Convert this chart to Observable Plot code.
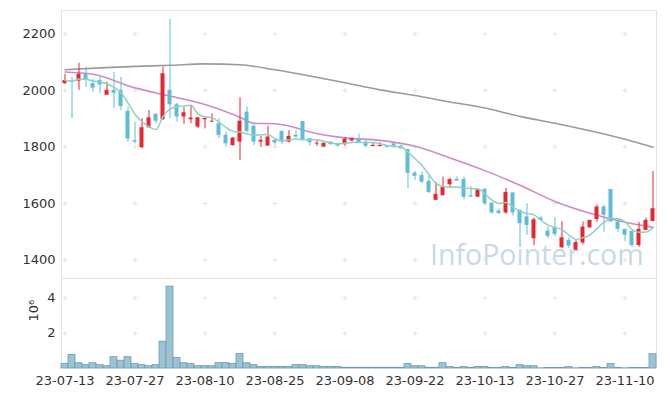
<!DOCTYPE html>
<html><head><meta charset="utf-8">
<script src="https://cdn.jsdelivr.net/npm/d3@7"></script>
<script src="https://cdn.jsdelivr.net/npm/@observablehq/plot@0.6"></script>
<style>
body{margin:0;background:#fff;font-family:"DejaVu Sans",sans-serif;}
#wrap{position:relative;width:665px;height:396px;overflow:hidden;}
#wm{position:absolute;left:430px;top:235px;font-family:"Open Sans";font-size:28.5px;color:#c8d9e4;white-space:nowrap;z-index:0;}
.panel{position:absolute;left:0;z-index:1;}
</style></head><body>
<div id="wrap"><div id="wm">InfoPointer.com</div><div id="top" class="panel" style="top:0"></div><div id="bot" class="panel" style="top:278px"></div></div>
<script>
const dates = ["23-07-13","23-07-14","23-07-17","23-07-18","23-07-19","23-07-20","23-07-21","23-07-24","23-07-25","23-07-26",
"23-07-27","23-07-28","23-07-31","23-08-01","23-08-02","23-08-03","23-08-04","23-08-07","23-08-08","23-08-09",
"23-08-10","23-08-11","23-08-14","23-08-16","23-08-17","23-08-18","23-08-21","23-08-22","23-08-23","23-08-24",
"23-08-25","23-08-28","23-08-29","23-08-30","23-08-31","23-09-01","23-09-04","23-09-05","23-09-06","23-09-07",
"23-09-08","23-09-11","23-09-12","23-09-13","23-09-14","23-09-15","23-09-18","23-09-19","23-09-20","23-09-21",
"23-09-22","23-09-25","23-09-26","23-09-27","23-10-04","23-10-05","23-10-06","23-10-10","23-10-11","23-10-12",
"23-10-13","23-10-16","23-10-17","23-10-18","23-10-19","23-10-20","23-10-23","23-10-24","23-10-25","23-10-26",
"23-10-27","23-10-30","23-10-31","23-11-01","23-11-02","23-11-03","23-11-06","23-11-07","23-11-08","23-11-09",
"23-11-10","23-11-13","23-11-14","23-11-15","23-11-16"];
const open = [2024,2033,2033,2057,2024,2035,1983,2000,2000,1926,
1822,1797,1868,1915,1896,2000,1949,1906,1896,1870,
1896,1888,1882,1841,1805,1817,1923,1873,1817,1803,
1823,1855,1817,1841,1890,1829,1810,1799,1817,1811,
1808,1821,1829,1817,1801,1801,1803,1811,1803,1791,
1707,1699,1678,1611,1628,1666,1685,1684,1627,1622,
1650,1601,1573,1566,1637,1575,1552,1475,1548,1502,
1514,1443,1469,1434,1460,1513,1543,1587,1649,1534,
1508,1501,1451,1504,1536];
const high = [2057,2045,2096,2082,2039,2046,2029,2063,2046,1940,
1888,1900,1929,1918,2082,2251,1955,1939,1943,1905,
1902,1917,1900,1852,1834,1974,1941,1882,1837,1873,
1826,1855,1858,1858,1890,1829,1823,1813,1817,1811,
1833,1832,1845,1823,1814,1815,1803,1815,1806,1791,
1713,1710,1696,1675,1693,1689,1694,1693,1660,1652,
1652,1601,1580,1653,1637,1578,1599,1548,1553,1516,
1549,1535,1478,1468,1534,1540,1594,1593,1649,1541,
1508,1501,1533,1548,1713];
const low = [2021,1900,2000,2011,1994,1989,1983,1936,1929,1817,
1811,1794,1865,1881,1894,1900,1888,1880,1882,1865,
1864,1886,1829,1799,1802,1752,1850,1805,1798,1802,
1806,1808,1814,1832,1823,1803,1802,1799,1806,1799,
1803,1818,1812,1796,1801,1801,1795,1795,1793,1652,
1681,1670,1635,1611,1625,1656,1679,1613,1622,1620,
1593,1562,1560,1562,1555,1451,1487,1450,1537,1475,
1483,1440,1440,1434,1453,1513,1533,1498,1534,1497,
1465,1444,1444,1504,1534];
const close = [2035,2030,2057,2035,2008,2019,2000,1990,1943,1828,
1817,1868,1903,1891,2059,1949,1906,1921,1902,1903,
1901,1891,1841,1811,1831,1891,1855,1817,1823,1835,
1814,1817,1837,1835,1825,1815,1813,1813,1808,1803,
1827,1829,1814,1802,1805,1805,1799,1800,1793,1707,
1696,1675,1639,1632,1656,1684,1679,1622,1622,1648,
1599,1566,1564,1639,1566,1528,1522,1542,1540,1483,
1490,1478,1449,1461,1516,1540,1587,1558,1534,1508,
1487,1451,1508,1540,1581];
// volume in millions (10^6)
const volume = [0.25,0.76,0.30,0.19,0.30,0.19,0.13,0.64,0.44,0.64,
0.25,0.19,0.13,0.19,1.52,4.64,0.59,0.30,0.25,0.13,
0.13,0.13,0.30,0.30,0.25,0.82,0.30,0.19,0.08,0.08,
0.08,0.08,0.08,0.19,0.19,0.13,0.13,0.08,0.08,0.08,
0.04,0.04,0.04,0.04,0.04,0.04,0.04,0.04,0.04,0.25,
0.13,0.13,0.04,0.04,0.30,0.08,0.03,0.08,0.03,0.08,
0.08,0.03,0.03,0.08,0.03,0.19,0.13,0.13,0.01,0.03,
0.03,0.03,0.08,0.01,0.03,0.03,0.08,0.03,0.25,0.03,
0.01,0.03,0.03,0.03,0.81];
// moving-average lines (index of trading day, value)
const ma20Idx = [0,4,10,15,20,25,27,30,32,35,40,45,50,55,60,65,70,75,80,84];
const ma20Val = [2065,2057,2009,1980,1950,1905,1884,1882,1874,1853,1832,1823,1802,1761,1716,1664,1607,1565,1533,1515];
const ma60Idx = [0,5,10,15,20,25,30,35,40,45,50,55,60,65,70,75,80,84];
const ma60Val = [2073,2080,2085,2089,2094,2091,2073,2051,2027,2002,1982,1959,1938,1908,1884,1857,1827,1799];
const xTickIdx = [0,10,20,30,40,50,60,70,80];
const yTicks = [1400,1600,1800,2000,2200];
const volTicks = [2,4];

const RED = "#e8262e", BLUE = "#5fbcd7";
const rows = dates.map((d,i)=>({d, o:open[i], h:high[i], l:low[i], c:close[i], v:volume[i]}));
const ma20 = ma20Idx.map((k,j)=>({d:dates[k], v:ma20Val[j]}));
const ma60 = ma60Idx.map((k,j)=>({d:dates[k], v:ma60Val[j]}));
const xTicks = xTickIdx.map(k=>dates[k]);
const gridTop = xTicks.flatMap(d=>yTicks.map(v=>({d,v})));
const gridBot = xTicks.flatMap(d=>volTicks.map(v=>({d,v})));
const font = {background:"transparent", fontFamily:"DejaVu Sans", fontSize:"13px", color:"#333", overflow:"visible"};

const topPlot = Plot.plot({
  width:665, height:279, marginTop:10, marginBottom:1, marginLeft:61, marginRight:9,
  style:font,
  x:{type:"band", domain:dates, padding:0, axis:null},
  y:{domain:[1334,2283], ticks:yTicks, tickSize:0, tickPadding:6, label:null, tickFormat:d=>String(d)},
  marks:[
    Plot.frame({stroke:"#e4e4e4"}),
    Plot.dot(gridTop,{x:"d", y:"v", symbol:"plus", r:1.8, stroke:"#e3e3e3", strokeWidth:1}),
    Plot.line(ma60,{x:"d", y:"v", stroke:"#9b9b9b", strokeWidth:1.6, curve:"monotone-x"}),
    Plot.line(ma20,{x:"d", y:"v", stroke:"#cc8bc6", strokeWidth:1.6, curve:"monotone-x"}),
    Plot.ruleX(rows,{x:"d", y1:"l", y2:"h", stroke:r=>r.c>=r.o?RED:BLUE, strokeWidth:1}),
    Plot.barY(rows,{x:"d", y1:"o", y2:"c", fill:r=>r.c>=r.o?RED:BLUE, insetLeft:1.5, insetRight:1.5}),
    Plot.line(rows, Plot.windowY({k:5, anchor:"end", reduce:"mean"}, {x:"d", y:"c", stroke:"#8fd0c3", strokeWidth:1.5, curve:"monotone-x"}))
  ]
});
document.getElementById("top").append(topPlot);

const botPlot = Plot.plot({
  width:665, height:118, marginTop:0, marginBottom:28, marginLeft:61, marginRight:9,
  style:font,
  x:{type:"band", domain:dates, padding:0, ticks:xTicks, tickSize:0, tickPadding:7, label:null},
  y:{domain:[0,5.1], ticks:volTicks, tickSize:0, tickPadding:6, label:null, tickFormat:d=>String(d)},
  marks:[
    Plot.ruleY([5.1],{stroke:"#e4e4e4"}),
    Plot.ruleX([dates[0]],{stroke:"#e4e4e4", dx:-3.5}),
    Plot.ruleX([dates[dates.length-1]],{stroke:"#e4e4e4", dx:3.5}),
    Plot.dot(gridBot,{x:"d", y:"v", symbol:"plus", r:1.8, stroke:"#e3e3e3", strokeWidth:1}),
    Plot.barY(rows,{x:"d", y:"v", fill:"#9cc3d4", stroke:"#6a9db4", strokeWidth:0.8}),
    Plot.text(["10⁶"],{frameAnchor:"left", dx:-28, dy:-2, rotate:-90, fontSize:13, fill:"#333"})
  ]
});
document.getElementById("bot").append(botPlot);
</script>
</body></html>
